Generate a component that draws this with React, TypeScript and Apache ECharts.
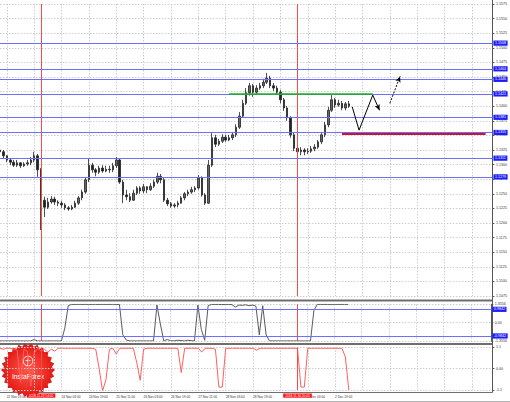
import React, { useEffect, useRef } from 'react';
import * as echarts from 'echarts';

const FONT = 'Liberation Sans';
const SLOT_COUNT = 145;
const TICK_FIRST = 2;
const TICK_EVERY = 8;

const tickLabels = [
  '22 Nov 19:00', '', '24 Nov 03:00', '24 Nov 19:00', '25 Nov 11:00',
  '26 Nov 03:00', '26 Nov 19:00', '27 Nov 11:00', '28 Nov 03:00', '28 Nov 19:00',
  '', '2 Dec 03:00', '2 Dec 19:00',
];

// [open, close, low, high]
const candles: number[][] = [
  [1.1325, 1.1322, 1.1316, 1.1328], [1.1322, 1.1315, 1.1311, 1.1325], [1.1315, 1.1308, 1.1304, 1.1316],
  [1.1308, 1.1304, 1.1299, 1.1311], [1.1304, 1.1299, 1.1296, 1.1308], [1.1299, 1.1303, 1.1296, 1.1308],
  [1.1303, 1.1298, 1.1294, 1.1304], [1.1298, 1.1301, 1.1296, 1.1304], [1.1301, 1.1303, 1.1298, 1.1308],
  [1.1303, 1.1308, 1.1299, 1.1313], [1.1308, 1.1315, 1.1304, 1.1322], [1.1315, 1.1291, 1.1279, 1.1318],
  [1.1291, 1.1239, 1.1188, 1.1294], [1.1239, 1.1227, 1.1210, 1.1245], [1.1227, 1.1236, 1.1224, 1.1243],
  [1.1236, 1.1241, 1.1233, 1.1246], [1.1241, 1.1236, 1.1231, 1.1245], [1.1236, 1.1234, 1.1229, 1.1239],
  [1.1234, 1.1231, 1.1226, 1.1238], [1.1231, 1.1226, 1.1222, 1.1234], [1.1226, 1.1224, 1.1221, 1.1229],
  [1.1224, 1.1227, 1.1222, 1.1231], [1.1227, 1.1234, 1.1226, 1.1238], [1.1234, 1.1243, 1.1231, 1.1246],
  [1.1243, 1.1253, 1.1239, 1.1257], [1.1253, 1.1274, 1.1250, 1.1277], [1.1274, 1.1299, 1.1270, 1.1310],
  [1.1299, 1.1291, 1.1286, 1.1303], [1.1291, 1.1287, 1.1280, 1.1294], [1.1287, 1.1294, 1.1284, 1.1298],
  [1.1294, 1.1289, 1.1286, 1.1299], [1.1289, 1.1292, 1.1287, 1.1298], [1.1292, 1.1291, 1.1286, 1.1298],
  [1.1291, 1.1298, 1.1287, 1.1303], [1.1298, 1.1308, 1.1294, 1.1313], [1.1308, 1.1270, 1.1267, 1.1311],
  [1.1270, 1.1248, 1.1234, 1.1274], [1.1248, 1.1245, 1.1239, 1.1257], [1.1245, 1.1239, 1.1236, 1.1251],
  [1.1239, 1.1251, 1.1238, 1.1257], [1.1251, 1.1260, 1.1248, 1.1263], [1.1260, 1.1255, 1.1250, 1.1263],
  [1.1255, 1.1262, 1.1251, 1.1267], [1.1262, 1.1257, 1.1251, 1.1263], [1.1257, 1.1263, 1.1255, 1.1268],
  [1.1263, 1.1270, 1.1260, 1.1274], [1.1270, 1.1280, 1.1267, 1.1286], [1.1280, 1.1274, 1.1268, 1.1284],
  [1.1274, 1.1239, 1.1236, 1.1277], [1.1239, 1.1233, 1.1229, 1.1243], [1.1233, 1.1229, 1.1226, 1.1236],
  [1.1229, 1.1231, 1.1226, 1.1234], [1.1231, 1.1234, 1.1227, 1.1238], [1.1234, 1.1243, 1.1233, 1.1246],
  [1.1243, 1.1250, 1.1239, 1.1253], [1.1250, 1.1253, 1.1246, 1.1257], [1.1253, 1.1257, 1.1250, 1.1262],
  [1.1257, 1.1260, 1.1253, 1.1263], [1.1260, 1.1277, 1.1257, 1.1282], [1.1277, 1.1248, 1.1245, 1.1280],
  [1.1248, 1.1234, 1.1231, 1.1251], [1.1234, 1.1299, 1.1233, 1.1308], [1.1299, 1.1346, 1.1296, 1.1354],
  [1.1346, 1.1335, 1.1330, 1.1351], [1.1335, 1.1340, 1.1332, 1.1344], [1.1340, 1.1347, 1.1337, 1.1352],
  [1.1347, 1.1342, 1.1339, 1.1351], [1.1342, 1.1346, 1.1340, 1.1351], [1.1346, 1.1351, 1.1342, 1.1356],
  [1.1351, 1.1364, 1.1347, 1.1369], [1.1364, 1.1383, 1.1361, 1.1390], [1.1383, 1.1405, 1.1380, 1.1411],
  [1.1405, 1.1423, 1.1402, 1.1431], [1.1423, 1.1435, 1.1418, 1.1440], [1.1435, 1.1424, 1.1416, 1.1438],
  [1.1424, 1.1431, 1.1421, 1.1436], [1.1431, 1.1435, 1.1428, 1.1440], [1.1435, 1.1441, 1.1431, 1.1447],
  [1.1441, 1.1448, 1.1438, 1.1457], [1.1448, 1.1435, 1.1431, 1.1452], [1.1435, 1.1431, 1.1426, 1.1440],
  [1.1431, 1.1424, 1.1419, 1.1435], [1.1424, 1.1411, 1.1405, 1.1428], [1.1411, 1.1397, 1.1392, 1.1414],
  [1.1397, 1.1380, 1.1375, 1.1400], [1.1380, 1.1351, 1.1346, 1.1383], [1.1351, 1.1328, 1.1323, 1.1354],
  [1.1328, 1.1322, 1.1315, 1.1334], [1.1322, 1.1325, 1.1316, 1.1330], [1.1325, 1.1322, 1.1316, 1.1328],
  [1.1322, 1.1323, 1.1318, 1.1328], [1.1323, 1.1327, 1.1320, 1.1332], [1.1327, 1.1330, 1.1323, 1.1335],
  [1.1330, 1.1339, 1.1327, 1.1342], [1.1339, 1.1351, 1.1335, 1.1356], [1.1351, 1.1368, 1.1347, 1.1373],
  [1.1368, 1.1393, 1.1364, 1.1399], [1.1393, 1.1411, 1.1390, 1.1419], [1.1411, 1.1402, 1.1397, 1.1414],
  [1.1402, 1.1405, 1.1399, 1.1411], [1.1405, 1.1397, 1.1393, 1.1409], [1.1397, 1.1404, 1.1393, 1.1407],
  [1.1404, 1.1400, 1.1397, 1.1409],
];

const oscA: number[] = [
  -1.35, -1.35, -1.35, -1.35, -1.35, -1.35, -1.35, -1.35, -1.35, -1.35,
  -1.25, -1.35, -1.35, -1.35, -1.35, -1.35, -1.35, -1.35, -1.35, -0.4,
  1.25, 1.35, 1.35, 1.35, 1.35, 1.35, 1.35, 1.35, 1.35, 1.35,
  1.35, 1.35, 1.35, 1.35, 1.35, 1.35, -0.9, -1.28, -1.35, -1.35,
  -1.35, -1.35, -1.35, -1.35, -1.35, -1.35, 1.3, -0.1, -1.35, -1.25,
  -1.33, -1.35, -1.3, -1.32, -1.35, -1.3, -1.33, -1.35, 1.3, -0.5,
  -1.3, 1.25, 1.35, 1.35, 1.35, 1.33, 1.35, 1.35, 1.33, 1.15,
  1.3, 1.28, 1.32, 1.25, 1.3, 1.22, -0.9, 1.25, -0.9, -1.35,
  -1.35, -1.35, -1.35, -1.35, -1.35, -1.35, -1.35, -1.35, -1.35, -1.35,
  -1.35, -1.35, 0.9, 1.35, 1.35, 1.35, 1.35, 1.35, 1.35, 1.35,
  1.35, 1.35, 1.35,
];

const oscB: number[] = [
  1.05, 1.0, 1.05, 1.05, 1.0, 0.95, -0.7, 1.0, 0.9, -0.9,
  0.8, 1.05, 0.9, 1.0, 0.85, 1.0, 0.9, 1.05, 1.05, 1.05,
  1.05, 1.05, 1.05, 1.05, 1.05, 1.05, 1.05, 1.05, 1.0, 0.0,
  -1.15, -0.55, 1.0, 1.05, 0.75, 1.05, 1.05, 1.05, 1.05, 1.05,
  0.3, -0.6, 1.0, 1.05, 1.05, 1.05, 1.05, 1.05, 1.05, 1.05,
  1.05, 1.05, 1.05, -0.2, 1.05, 1.05, 1.05, 1.05, 1.05, 0.85,
  1.05, 1.05, 1.05, 1.0, -0.95, -0.95, 1.05, 1.05, 1.05, 1.05,
  1.05, 1.05, 1.05, 1.05, 1.05, 0.95, 1.05, 1.05, 1.05, 1.05,
  1.05, 1.05, 1.05, 1.05, 1.05, 1.05, 1.05, 1.05, -0.95, -0.95,
  1.05, 1.05, 1.05, 1.05, 1.05, 1.05, 1.05, 1.05, 1.05, 1.05,
  1.05, 0.6, -1.1,
];

const levels = [1.1508, 1.1464, 1.1446, 1.1421, 1.1381, 1.1355, 1.1311, 1.1279];
const currentPrice = 1.14;
const eventSlots = [12, 87];
const eventLabels = ['2018.11.23 14:00', '2018.11.30 20:00'];
const greenLevel = { from: 67, to: 109, price: 1.1421 };
const redLevel = { from: 100, to: 142, price: 1.1353 };
const solidArrow = [[103, 1.1399], [105, 1.1359], [109, 1.1419], [111, 1.1393]];
const dashedArrow = [[114, 1.1405], [117, 1.1451]];
const oscALevels = [0.9842, -0.9842];
const oscARange = 1.3556;
const oscBRange = 1.1;

const categories = Array.from({ length: SLOT_COUNT }, (_, i) => String(i));
const isTick = (i: number) => i >= TICK_FIRST && (i - TICK_FIRST) % TICK_EVERY === 0;
const labelAt = (i: number) => (isTick(i) ? tickLabels[(i - TICK_FIRST) / TICK_EVERY] || '' : '');

const BLUE = '#6e6eff';
const RED_V = '#ff4848';
const GRID_LEFT = -0.58;
const GRID_RIGHT = 17.58;

const boxLabel = (text: string, bg: string) => ({
  show: true,
  position: 'end',
  distance: 1,
  formatter: text,
  color: '#ffffff',
  backgroundColor: bg,
  padding: [0.8, 1.6, 0.4, 1.6],
  fontSize: 3.6,
  fontFamily: FONT,
});

export default function App() {
  const ref = useRef<HTMLDivElement>(null);
  useEffect(() => {
    document.body.style.margin = '0';
    if (!ref.current) return;
    const chart = echarts.init(ref.current, null, { renderer: 'svg' });

    const tickFn = (i: number) => isTick(i);
    const xAxis = [0, 1, 2].map((g) => ({
      type: 'category',
      gridIndex: g,
      data: categories,
      boundaryGap: false,
      axisLine: { show: false },
      axisTick: { show: false, interval: tickFn },
      axisLabel:
        g === 2
          ? {
              show: true,
              interval: tickFn,
              formatter: (_v: string, i: number) => labelAt(i),
              align: 'left',
              fontSize: 3.2,
              color: '#333',
              margin: 4.8,
              fontFamily: FONT,
            }
          : { show: false, interval: tickFn },
      splitLine: {
        show: true,
        interval: tickFn,
        lineStyle: { color: '#cfcfcf', type: [1.5, 1.5], width: 1 },
      },
    }));

    const yCommon = {
      type: 'value',
      position: 'right',
      axisLine: { show: true, lineStyle: { color: '#555' } },
      axisTick: { show: true, length: 2, lineStyle: { color: '#555' } },
      splitLine: { show: true, lineStyle: { color: '#cfcfcf', type: [1.5, 1.5] } },
    };
    const yAxis = [
      {
        ...yCommon,
        gridIndex: 0,
        min: 1.1075,
        max: 1.1575,
        interval: 0.0025,
        axisLabel: { formatter: (v: number) => v.toFixed(4), fontSize: 3.6, color: '#333', margin: 3.5, fontFamily: FONT },
      },
      {
        ...yCommon,
        gridIndex: 1,
        min: -oscARange,
        max: oscARange,
        interval: oscARange,
        axisLabel: {
          formatter: (v: number) => (Math.abs(v) < 1e-9 ? '0.00' : v.toFixed(4)),
          fontSize: 3.6,
          color: '#333',
          margin: 3.5,
          fontFamily: FONT,
        },
      },
      {
        ...yCommon,
        gridIndex: 2,
        min: -oscBRange,
        max: oscBRange,
        interval: oscBRange,
        axisLabel: {
          formatter: (v: number) => (Math.abs(v) < 1e-9 ? '0.00' : String(Math.round(v * 10) / 10)),
          fontSize: 3.6,
          color: '#333',
          margin: 3.5,
          fontFamily: FONT,
        },
      },
    ];

    // an empty line series that only carries mark lines in one colour
    const markSeries = (g: number, color: string, data: any[], width = 1, type: any = 'solid', z = 3) => ({
      type: 'line',
      xAxisIndex: g,
      yAxisIndex: g,
      data: [],
      z,
      color,
      lineStyle: { color },
      itemStyle: { color },
      markLine: {
        silent: true,
        precision: 5,
        symbol: ['none', 'none'],
        lineStyle: { color, width, type },
        label: { show: false },
        data,
      },
    });

    const arrowSolid: any[] = [];
    for (let k = 0; k < solidArrow.length - 1; k++) {
      const last = k === solidArrow.length - 2;
      arrowSolid.push([
        { coord: solidArrow[k], symbol: 'none' },
        { coord: solidArrow[k + 1], symbol: last ? 'arrow' : 'none', symbolSize: [4, 6] },
      ]);
    }
    const arrowDashed = [
      [
        { coord: dashedArrow[0], symbol: 'none' },
        { coord: dashedArrow[1], symbol: 'arrow', symbolSize: [4, 6] },
      ],
    ];

    // InstaForex seal (decoration)
    const LOGO_X = 28;
    const LOGO_Y = 370;
    const teeth = 26;
    const pts: number[][] = [];
    for (let k = 0; k < teeth * 2; k++) {
      const a = (Math.PI * k) / teeth;
      const r = k % 2 === 0 ? 27 : 24;
      pts.push([LOGO_X + r * Math.cos(a), LOGO_Y + r * Math.sin(a)]);
    }

    chart.setOption({
      animation: false,
      backgroundColor: '#ffffff',
      grid: [
        { left: GRID_LEFT, right: GRID_RIGHT, top: 4, height: 292 },
        { left: GRID_LEFT, right: GRID_RIGHT, top: 304.3, height: 36.7 },
        { left: GRID_LEFT, right: GRID_RIGHT, top: 347.3, height: 42.7 },
      ],
      xAxis,
      yAxis,
      series: [
        {
          type: 'candlestick',
          xAxisIndex: 0,
          yAxisIndex: 0,
          data: candles,
          barWidth: 2,
          z: 4,
          itemStyle: { color: '#666', color0: '#222', borderColor: '#222', borderColor0: '#222', borderWidth: 0.8 },
        },
        markSeries(0, RED_V, eventSlots.map((s) => ({ xAxis: s }))),
        markSeries(
          0,
          BLUE,
          levels.map((v) => ({ yAxis: v, label: boxLabel(v.toFixed(4), '#1c1cff') })),
        ),
        markSeries(0, '#ffffff', [
          { yAxis: currentPrice, lineStyle: { opacity: 0 }, label: boxLabel(currentPrice.toFixed(4), '#111111') },
        ]),
        markSeries(0, '#19b619', [[{ coord: [greenLevel.from, greenLevel.price] }, { coord: [greenLevel.to, greenLevel.price] }]], 1.5),
        markSeries(0, '#cc1236', [[{ coord: [redLevel.from, redLevel.price] }, { coord: [redLevel.to, redLevel.price] }]], 2, 'solid', 5),
        markSeries(0, '#000000', arrowSolid, 1, 'solid', 6),
        markSeries(0, '#000000', arrowDashed, 1, [2, 1.5], 6),
        {
          type: 'line',
          xAxisIndex: 1,
          yAxisIndex: 1,
          data: oscA,
          showSymbol: false,
          z: 4,
          lineStyle: { color: '#5a5a5a', width: 1 },
        },
        markSeries(1, RED_V, eventSlots.map((s) => ({ xAxis: s }))),
        markSeries(1, BLUE, oscALevels.map((v) => ({ yAxis: v, label: boxLabel(v.toFixed(4), '#1c1cff') }))),
        {
          type: 'line',
          xAxisIndex: 2,
          yAxisIndex: 2,
          data: oscB,
          showSymbol: false,
          z: 4,
          lineStyle: { color: '#ff6060', width: 1 },
        },
        markSeries(
          2,
          RED_V,
          eventSlots.map((s, k) => ({
            xAxis: s,
            label: {
              show: true,
              position: 'start',
              distance: 3.5,
              formatter: eventLabels[k],
              color: '#fff',
              backgroundColor: '#ff1010',
              padding: [0.8, 2, 0.4, 2],
              fontSize: 3.2,
              fontFamily: FONT,
            },
          })),
        ),
      ],
      graphic: [
        { type: 'rect', silent: true, shape: { x: 0, y: 299.5, width: 492.5, height: 2 }, style: { fill: '#6e6e6e' } },
        { type: 'rect', silent: true, shape: { x: 0, y: 343, width: 492.5, height: 2 }, style: { fill: '#6e6e6e' } },
        { type: 'line', silent: true, shape: { x1: 0, y1: 392.5, x2: 492.5, y2: 392.5 }, style: { stroke: '#6e6e6e', lineWidth: 1 } },
        { type: 'line', silent: true, shape: { x1: 0, y1: 401.5, x2: 510, y2: 401.5 }, style: { stroke: '#b4b4b4', lineWidth: 1 } },
        { type: 'line', silent: true, shape: { x1: 492.5, y1: 0, x2: 492.5, y2: 392.5 }, style: { stroke: '#5a5a5a', lineWidth: 1 } },
        {
          type: 'group',
          silent: true,
          z: 100,
          children: [
            {
              type: 'polygon',
              shape: { points: pts },
              style: {
                fill: new echarts.graphic.RadialGradient(0.5, 0.5, 0.5, [
                  { offset: 0, color: '#ff5a4a' },
                  { offset: 0.8, color: '#e8241e' },
                  { offset: 1, color: '#d81c18' },
                ]),
              },
            },
            { type: 'circle', shape: { cx: LOGO_X, cy: LOGO_Y - 9, r: 4.8 }, style: { fill: 'none', stroke: '#fff', lineWidth: 1 } },
            { type: 'line', shape: { x1: LOGO_X, y1: LOGO_Y - 12, x2: LOGO_X, y2: LOGO_Y - 5 }, style: { stroke: '#fff', lineWidth: 1 } },
            { type: 'line', shape: { x1: LOGO_X - 2.5, y1: LOGO_Y - 9.5, x2: LOGO_X + 2.5, y2: LOGO_Y - 9.5 }, style: { stroke: '#fff', lineWidth: 0.8 } },
            {
              type: 'text',
              x: LOGO_X,
              y: LOGO_Y + 6,
              style: { text: 'InstaForex', fill: '#fff', fontSize: 6.8, fontFamily: FONT, align: 'center', verticalAlign: 'middle' },
            },
          ],
        },
      ],
    });
    return () => chart.dispose();
  }, []);
  return <div ref={ref} style={{ width: 510, height: 402 }} />;
}
